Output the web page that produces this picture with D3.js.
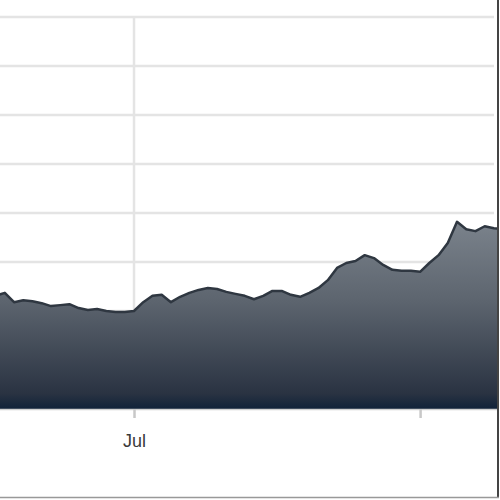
<!DOCTYPE html>
<html>
<head>
<meta charset="utf-8">
<script src="https://cdn.jsdelivr.net/npm/d3@7"></script>
<style>
  body { margin: 0; background: #fff; }
  svg { display: block; }
</style>
</head>
<body>
<div id="chart"></div>
<script>
!(function(){
    "use strict"

    var width = 500;
    var height = 500;

    // daily values, Jun 16 .. Aug 10
    var startDay = new Date(2019, 5, 16);
    var values = [
        23.1, 23.7, 21.8, 22.2, 22.0, 21.6, 21.0, 21.2, 21.4, 20.6,
        20.2, 20.4, 20.0, 19.8, 19.8, 20.0, 21.8, 23.1, 23.3, 21.8,
        22.9, 23.7, 24.3, 24.7, 24.5, 23.9, 23.5, 23.1, 22.4, 23.1,
        24.1, 24.1, 23.3, 22.9, 23.7, 24.7, 26.3, 28.8, 29.8, 30.2,
        31.4, 30.8, 29.4, 28.4, 28.2, 28.2, 28.0, 29.8, 31.4, 33.9,
        38.2, 36.7, 36.3, 37.3, 36.9, 36.7
    ];
    var yTicks = [10, 20, 30, 40, 50, 60, 70, 80];
    var xTicks = [new Date(2019, 6, 1), new Date(2019, 7, 1)];
    var xTickLabels = ["Jul", ""];

    var data = values.map(function(v, i) {
        return { date: d3.timeDay.offset(startDay, i), value: v };
    });

    var x = d3.scaleTime()
        .domain([new Date(2019, 5, 16, 11, 30), new Date(2019, 7, 9, 8)])
        .range([0, 497]);

    var y = d3.scaleLinear()
        .domain([0, 80])
        .range([409, 17]);

    var svg = d3.select("#chart")
        .append("svg")
        .attr("width", width)
        .attr("height", height);

    var defs = svg.append("defs");

    var grad = defs.append("linearGradient")
        .attr("id", "fill")
        .attr("gradientUnits", "userSpaceOnUse")
        .attr("x1", 0).attr("y1", 215)
        .attr("x2", 0).attr("y2", 409);
    grad.append("stop").attr("offset", "0%").attr("stop-color", "#7d858e");
    grad.append("stop").attr("offset", "45%").attr("stop-color", "#5c646e");
    grad.append("stop").attr("offset", "92%").attr("stop-color", "#2a3342");
    grad.append("stop").attr("offset", "100%").attr("stop-color", "#102239");

    defs.append("clipPath")
        .attr("id", "plot")
        .append("rect")
        .attr("x", 0).attr("y", 0)
        .attr("width", 497).attr("height", 409);

    // horizontal grid
    svg.append("g")
        .selectAll("line")
        .data(yTicks)
        .enter().append("line")
        .attr("x1", 0).attr("x2", 494)
        .attr("y1", function(d){ return y(d); })
        .attr("y2", function(d){ return y(d); })
        .attr("stroke", "#e4e4e4")
        .attr("stroke-width", 2.5);

    // vertical grid (Jul only)
    svg.append("line")
        .attr("x1", x(xTicks[0])).attr("x2", x(xTicks[0]))
        .attr("y1", y(80)).attr("y2", 409)
        .attr("stroke", "#e4e4e4")
        .attr("stroke-width", 2.5);

    var area = d3.area()
        .x(function(d){ return x(d.date); })
        .y0(y(0))
        .y1(function(d){ return y(d.value); });

    var line = d3.line()
        .x(function(d){ return x(d.date); })
        .y(function(d){ return y(d.value); });

    var g = svg.append("g").attr("clip-path", "url(#plot)");

    g.append("path")
        .datum(data)
        .attr("d", area)
        .attr("fill", "url(#fill)");

    g.append("path")
        .datum(data)
        .attr("d", line)
        .attr("fill", "none")
        .attr("stroke", "#2f3741")
        .attr("stroke-width", 2.5)
        .attr("stroke-linejoin", "round");

    // x axis
    var xAxis = d3.axisBottom(x)
        .tickValues(xTicks)
        .tickSize(9)
        .tickPadding(16)
        .tickFormat(function(d, i){ return xTickLabels[i]; });

    var ax = svg.append("g")
        .attr("transform", "translate(0,409)")
        .call(xAxis);
    ax.select(".domain")
        .attr("d", "M0,0.5H497")
        .attr("stroke", "#d0d0d0")
        .attr("stroke-width", 1.5);
    ax.selectAll(".tick line")
        .attr("stroke", "#c8c8c8")
        .attr("stroke-width", 2.5);
    ax.selectAll(".tick text")
        .attr("fill", "#3a3a3a")
        .style("font-family", "'Liberation Sans', Arial, sans-serif")
        .style("font-size", "18px");

    // frame
    svg.append("line")
        .attr("x1", 498).attr("x2", 498)
        .attr("y1", 0).attr("y2", 498)
        .attr("stroke", "#444")
        .attr("stroke-width", 2);
    svg.append("line")
        .attr("x1", 0).attr("x2", 499)
        .attr("y1", 497.5).attr("y2", 497.5)
        .attr("stroke", "#999")
        .attr("stroke-width", 1.5);

}());
</script>
</body>
</html>
